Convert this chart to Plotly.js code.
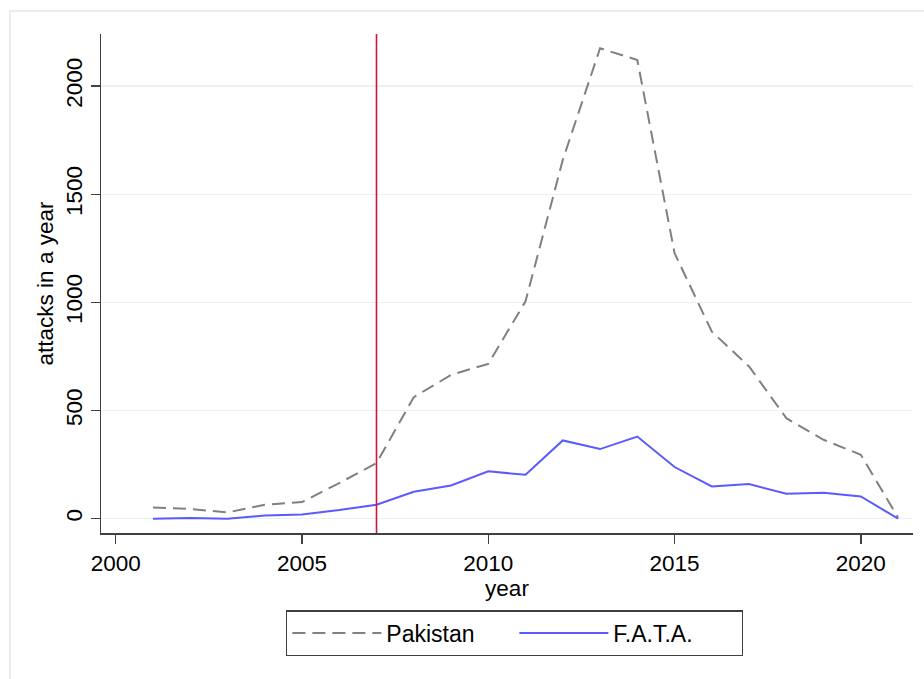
<!DOCTYPE html>
<html>
<head>
<meta charset="utf-8">
<script src="https://cdn.plot.ly/plotly-3.0.1.min.js"></script>
<style>
html,body{margin:0;padding:0;background:#fff;}
#chart{width:924px;height:679px;}
</style>
</head>
<body>
<div id="chart"></div>
<script>
const years = [2001,2002,2003,2004,2005,2006,2007,2008,2009,2010,2011,2012,2013,2014,2015,2016,2017,2018,2019,2020,2021];
const pakistan = [52,45,29,65,77,165,257,562,665,716,1005,1659,2175,2121,1228,865,704,465,365,296,5];
const fata = [0,3,0,15,19,40,65,125,154,219,203,362,322,380,239,149,160,116,120,103,0];
const eventYear = 2007;
const xTicks = [2000,2005,2010,2015,2020];
const yTicks = [0,500,1000,1500,2000];

const FONT = '"Liberation Sans", Arial, sans-serif';

const traces = [
  {x: years, y: pakistan, name: 'Pakistan', type: 'scatter', mode: 'lines',
   line: {color: '#808080', width: 2, dash: '13px,7px'}},
  {x: years, y: fata, name: 'F.A.T.A.', type: 'scatter', mode: 'lines',
   line: {color: '#5a5aff', width: 2}}
];

const layout = {
  width: 924, height: 679,
  margin: {l: 101, r: 11, t: 34, b: 146, pad: 0},
  paper_bgcolor: '#ffffff', plot_bgcolor: '#ffffff',
  font: {family: FONT, size: 22, color: '#000'},
  showlegend: true,
  legend: {
    orientation: 'h', x: 0.2279, xanchor: 'left', y: -0.155, yanchor: 'top',
    bordercolor: '#404040', borderwidth: 1.3, bgcolor: '#fff',
    font: {family: FONT, size: 23, color: '#000'},
    itemwidth: 89, entrywidth: 123, entrywidthmode: 'pixels', tracegroupgap: 0
  },
  xaxis: {
    range: [1999.605, 2021.4], tickvals: xTicks, ticktext: xTicks.map(String),
    showgrid: false, zeroline: false, showline: true, linecolor: '#404040', linewidth: 1.5,
    ticks: 'outside', ticklen: 9, tickwidth: 1.5, tickcolor: '#404040',
    tickfont: {family: FONT, size: 22.5, color: '#000'},
    title: {text: 'year', font: {family: FONT, size: 22.5, color: '#000'}, standoff: 2}
  },
  yaxis: {
    range: [-66, 2241], tickvals: yTicks, ticktext: yTicks.map(String),
    showgrid: true, gridcolor: '#e9f1f2', gridwidth: 1.3,
    zeroline: false, showline: true, linecolor: '#404040', linewidth: 1.5,
    ticks: 'outside', ticklen: 9, tickwidth: 1.5, tickcolor: '#404040',
    tickangle: -90,
    tickfont: {family: FONT, size: 22.5, color: '#000'},
    title: {text: 'attacks in a year', font: {family: FONT, size: 22.5, color: '#000'}, standoff: 1}
  },
  shapes: [
    {type: 'line', xref: 'x', yref: 'paper', x0: eventYear, x1: eventYear, y0: 0, y1: 1,
     line: {color: '#d6103f', width: 1.6}},
    {type: 'rect', xref: 'paper', yref: 'paper', x0: -0.1121, x1: 1.03, y0: -0.32, y1: 1.046,
     line: {color: '#e6eeee', width: 2}, layer: 'below'}
  ]
};

Plotly.newPlot('chart', traces, layout, {displayModeBar: false, staticPlot: true});
</script>
</body>
</html>
